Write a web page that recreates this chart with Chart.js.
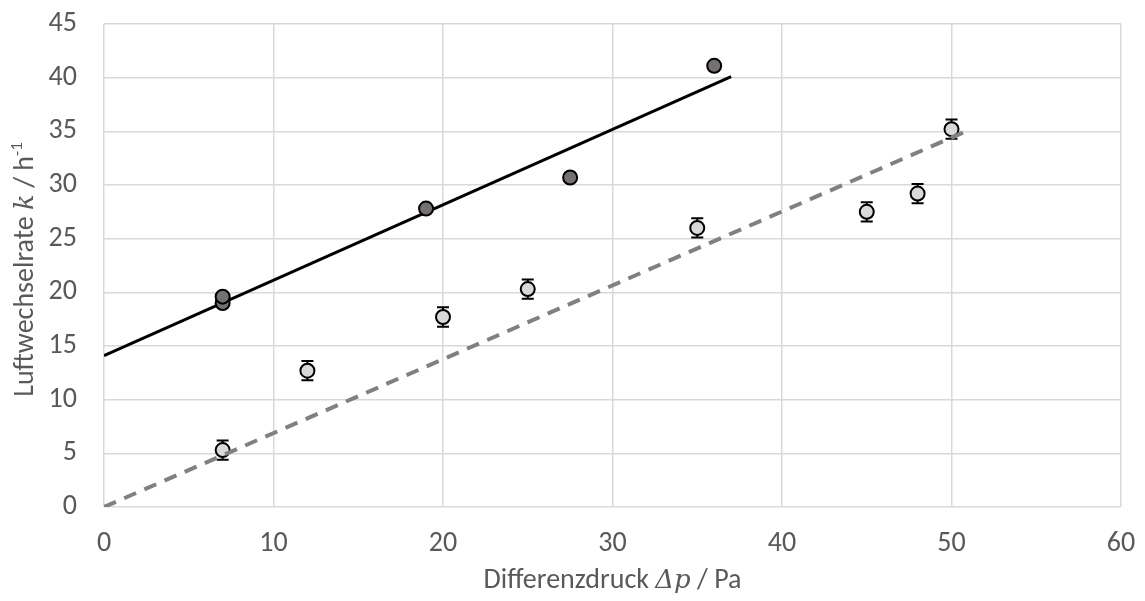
<!DOCTYPE html>
<html>
<head>
<meta charset="utf-8">
<script src="https://cdn.jsdelivr.net/npm/chart.js@4"></script>
<style>
  html, body { margin: 0; padding: 0; background: #fff; }
  #wrap { width: 1145px; height: 601px; }
</style>
</head>
<body>
<div id="wrap"><canvas id="chart"></canvas></div>
<script>
const darkX = [7, 7, 19, 27.5, 36];
const darkY = [19.0, 19.6, 27.8, 30.7, 41.1];
const darkErr = [0.3, 0.3, 0.3, 0.3, 0.3];

const lightX = [7, 12, 20, 25, 35, 45, 48, 50];
const lightY = [5.3, 12.7, 17.7, 20.3, 26.0, 27.5, 29.2, 35.2];
const lightErr = [0.9, 0.9, 0.9, 0.9, 0.9, 0.9, 0.9, 0.9];

const solidX = [0, 37];
const solidY = [14.1, 40.1];
const dashX = [0, 51];
const dashY = [0, 35.1];

// Achsen
const xTicks = [0, 10, 20, 30, 40, 50, 60];
const yTicks = [0, 5, 10, 15, 20, 25, 30, 35, 40, 45];

const FONT = 'Carlito, Calibri, "Liberation Sans", sans-serif';
const TEXT = '#595959';

function toPoints(xs, ys) {
    return xs.map((x, i) => ({ x: x, y: ys[i] }));
}

// no automatic label overflow padding, layout padding decides the plot area
function fixPadding(axis) {
    axis.paddingTop = 0;
    axis.paddingBottom = 0;
    axis.paddingLeft = 0;
    axis.paddingRight = 0;
}

// error bars, drawn behind the markers
const errorBars = {
    id: 'errorBars',
    beforeDatasetsDraw(chart) {
        const ctx = chart.ctx;
        const xs = chart.scales.x, ys = chart.scales.y;
        chart.data.datasets.forEach(ds => {
            if (!ds.errors) return;
            ctx.save();
            ctx.strokeStyle = '#000';
            ctx.lineWidth = 2;
            ds.data.forEach((p, i) => {
                const px = xs.getPixelForValue(p.x);
                const top = ys.getPixelForValue(p.y + ds.errors[i]);
                const bot = ys.getPixelForValue(p.y - ds.errors[i]);
                ctx.beginPath();
                ctx.moveTo(px, top); ctx.lineTo(px, bot);
                ctx.moveTo(px - 6, top); ctx.lineTo(px + 6, top);
                ctx.moveTo(px - 6, bot); ctx.lineTo(px + 6, bot);
                ctx.stroke();
            });
            ctx.restore();
        });
    }
};

// axis titles with italic symbols
function drawParts(ctx, parts, x, y) {
    let total = 0;
    parts.forEach(p => { ctx.font = p.font; total += ctx.measureText(p.text).width; });
    let cx = x - total / 2;
    parts.forEach(p => {
        ctx.font = p.font;
        ctx.fillText(p.text, cx, y + (p.dy || 0));
        cx += ctx.measureText(p.text).width;
    });
}

const axisTitles = {
    id: 'axisTitles',
    afterDraw(chart) {
        const ctx = chart.ctx;
        const area = chart.chartArea;
        const normal = '28px ' + FONT;
        const italic = 'italic 26px "DejaVu Serif", serif';
        ctx.save();
        ctx.fillStyle = TEXT;
        ctx.textBaseline = 'alphabetic';
        drawParts(ctx, [
            { text: 'Differenzdruck ', font: normal },
            { text: 'Δp', font: italic },
            { text: ' / Pa', font: normal }
        ], (area.left + area.right) / 2, 588);

        ctx.translate(33, (area.top + area.bottom) / 2 + 4);
        ctx.rotate(-Math.PI / 2);
        drawParts(ctx, [
            { text: 'Luftwechselrate ', font: normal },
            { text: 'k', font: italic },
            { text: ' / h', font: normal },
            { text: '-1', font: '17px ' + FONT, dy: -11 }
        ], 0, 0);
        ctx.restore();
    }
};

document.addEventListener('DOMContentLoaded', () => {
    const ctx = document.getElementById('chart').getContext('2d');

    new Chart(ctx, {
        type: 'scatter',
        data: {
            datasets: [
                {
                    type: 'line',
                    data: toPoints(dashX, dashY),
                    borderColor: '#808080',
                    borderWidth: 4,
                    borderDash: [13, 9],
                    pointRadius: 0,
                    fill: false
                },
                {
                    data: toPoints(lightX, lightY),
                    errors: lightErr,
                    backgroundColor: '#d9d9d9',
                    borderColor: '#000',
                    borderWidth: 2,
                    pointRadius: 7
                },
                {
                    data: toPoints(darkX, darkY),
                    errors: darkErr,
                    backgroundColor: '#767171',
                    borderColor: '#000',
                    borderWidth: 2,
                    pointRadius: 7
                },
                {
                    type: 'line',
                    data: toPoints(solidX, solidY),
                    borderColor: '#000',
                    borderWidth: 3,
                    pointRadius: 0,
                    fill: false
                }
            ]
        },
        options: {
            responsive: true,
            maintainAspectRatio: false,
            animation: false,
            layout: { padding: { top: 24, right: 24, left: 0, bottom: 0 } },
            plugins: {
                legend: { display: false },
                tooltip: { enabled: false }
            },
            scales: {
                x: {
                    type: 'linear',
                    min: 0,
                    max: 60,
                    afterBuildTicks: axis => { axis.ticks = xTicks.map(v => ({ value: v })); },
                    afterFit: axis => { axis.height = 94; fixPadding(axis); },
                    grid: { color: '#d9d9d9', lineWidth: 1.5, drawTicks: false },
                    border: { display: false },
                    ticks: { color: TEXT, font: { family: FONT, size: 28 }, padding: 20 }
                },
                y: {
                    type: 'linear',
                    min: 0,
                    max: 45,
                    afterBuildTicks: axis => { axis.ticks = yTicks.map(v => ({ value: v })); },
                    afterFit: axis => { axis.width = 104; fixPadding(axis); },
                    grid: { color: '#d9d9d9', lineWidth: 1.5, drawTicks: false },
                    border: { display: false },
                    ticks: { color: TEXT, font: { family: FONT, size: 28 }, padding: 27 }
                }
            }
        },
        plugins: [errorBars, axisTitles]
    });
});
</script>
</body>
</html>
